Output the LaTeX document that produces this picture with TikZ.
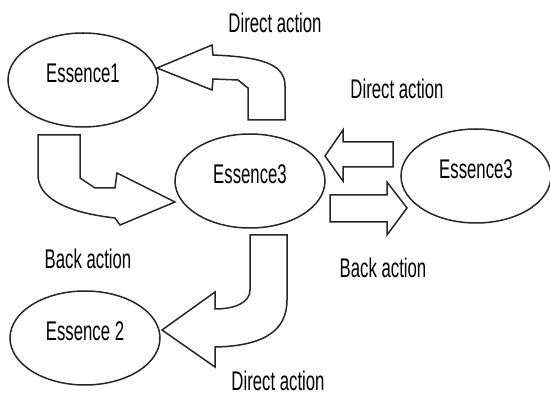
\documentclass[tikz,border=0pt]{standalone}
\usepackage{fontspec}
\setmainfont{Liberation Sans}[FakeStretch=0.62]
\usetikzlibrary{shapes.geometric}

\begin{document}
\begin{tikzpicture}[x=1pt, y=-1pt, line width=1.5pt, draw=black!85,
		essence/.style={ellipse, draw, minimum width=150, minimum height=94, inner sep=0pt, text depth=14pt, font=\fontsize{27}{30}\selectfont},
		action/.style={font=\fontsize{27}{30}\selectfont},
		blockarrow/.style={draw, line join=miter}]
				      \useasboundingbox (0,0) rectangle (550,395);

				      % Essences
				      \node[essence] (e1) at (83,80) {Essence1};
				      \node[essence] (e3) at (250,181) {Essence3};
				      \node[essence] (e3r) at (476,176) {Essence3};
				      \node[essence] (e2) at (85,338) {Essence 2};

				      % Bent arrow into Essence1
				      \draw[blockarrow] (157,68) -- (212,45) -- (213,55)
				        .. controls (262,57) and (285,64) .. (285,86) -- (285,120)
				        -- (248,120) -- (248,88) -- (238,80) -- (213,79) -- (212,90) -- cycle;

				      % Bent arrow into Essence3
				      \draw[blockarrow] (38,135) -- (80,135) -- (80,178) -- (95,188) -- (115,188)
				        -- (117,173) -- (175,202) -- (120,225) -- (115,218)
				        .. controls (62,212) and (38,196) .. (38,175) -- cycle;

				      % Bent arrow into Essence 2
				      \draw[blockarrow] (250,235) -- (250,290) .. controls (250,302) and (236,309) .. (215,309)
				        -- (215,292) -- (162,330) -- (215,367) -- (215,347)
				        .. controls (265,346) and (287,330) .. (287,300) -- (287,235) -- cycle;

				      % Straight arrows between the two Essence3
				      \draw[blockarrow] (325,156) -- (343,130) -- (343,142) -- (393,142)
				        -- (393,167) -- (343,167) -- (343,181) -- cycle;
				      \draw[blockarrow] (330,195) -- (387,195) -- (387,182) -- (407,208)
				        -- (387,235) -- (387,222) -- (330,222) -- cycle;

				      % Labels
				      \node[action] (dtop) at (275,23) {Direct action};
				      \node[action] (dright) at (397,89) {Direct action};
				      \node[action] (bleft) at (88,259) {Back action};
				      \node[action] (bright) at (383,268) {Back action};
				      \node[action] (dbottom) at (278,381) {Direct action};
			      \end{tikzpicture}
\end{document}
